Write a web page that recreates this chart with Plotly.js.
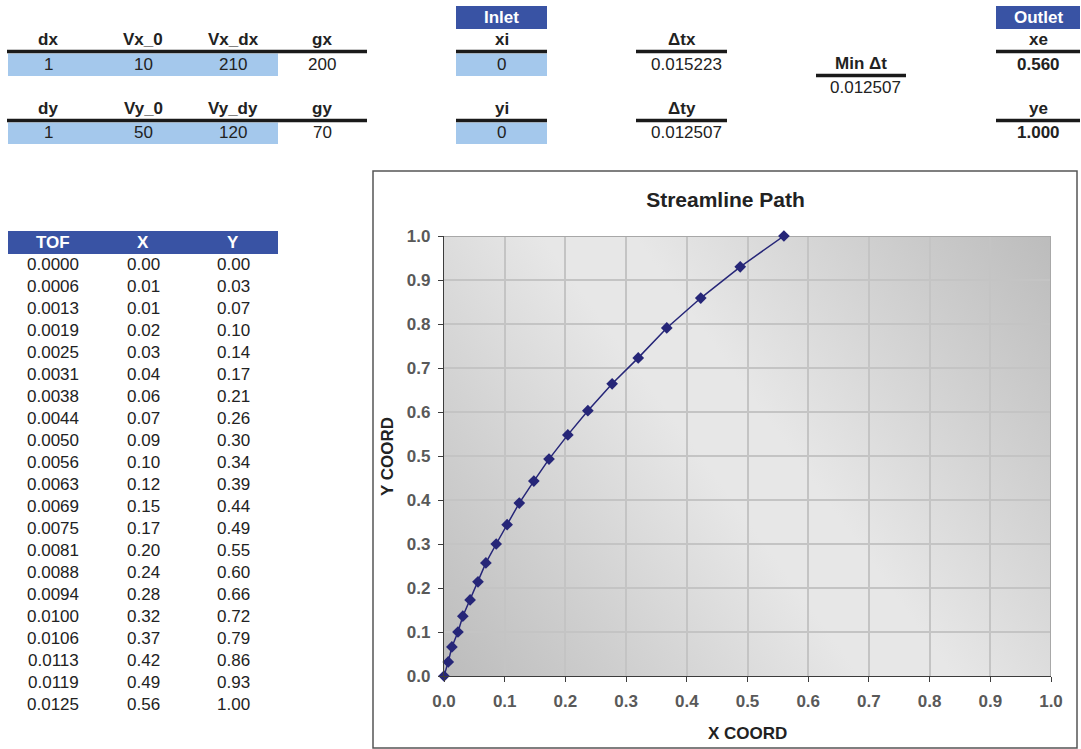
<!DOCTYPE html>
<html>
<head>
<meta charset="utf-8">
<script src="https://cdn.plot.ly/plotly-3.0.1.min.js"></script>
<style>
  html, body { margin: 0; padding: 0; background: #ffffff; }
  #chart { width: 1081px; height: 749px; }
</style>
</head>
<body>
<div id="chart"></div>
<script>
// ---------------- DATA ----------------
const gridHeadersX = ['dx', 'Vx_0', 'Vx_dx', 'gx'];
const gridValuesX  = [1, 10, 210, 200];
const gridHeadersY = ['dy', 'Vy_0', 'Vy_dy', 'gy'];
const gridValuesY  = [1, 50, 120, 70];

const inletLabels  = ['xi', 'yi'];
const inletValues  = [0, 0];
const dtLabels     = ['Δtx', 'Δty'];
const dtValues     = [0.015223, 0.012507];
const minDtLabel   = 'Min Δt';
const minDtValue   = 0.012507;
const outletLabels = ['xe', 'ye'];
const outletValues = [0.560, 1.000];

const tableHeaders = ['TOF', 'X', 'Y'];
const tof   = [0.0000, 0.0006, 0.0013, 0.0019, 0.0025, 0.0031, 0.0038, 0.0044, 0.0050, 0.0056,
               0.0063, 0.0069, 0.0075, 0.0081, 0.0088, 0.0094, 0.0100, 0.0106, 0.0113, 0.0119, 0.0125];
const xPath = [0.000, 0.007, 0.013, 0.023, 0.031, 0.043, 0.056, 0.069, 0.086, 0.104,
               0.124, 0.148, 0.173, 0.204, 0.237, 0.277, 0.320, 0.367, 0.423, 0.488, 0.560];
const yPath = [0.000, 0.032, 0.066, 0.100, 0.136, 0.173, 0.214, 0.257, 0.300, 0.344,
               0.393, 0.443, 0.493, 0.548, 0.603, 0.664, 0.723, 0.791, 0.859, 0.930, 1.000];

const chartTitle = 'Streamline Path';
const xTitle = 'X COORD';
const yTitle = 'Y COORD';

// ---------------- LAYOUT HELPERS ----------------
const W = 1081, H = 749;
const px = x => x / W;
const py = y => 1 - y / H;
const FONT = 'Liberation Sans, Arial, Helvetica, sans-serif';
const DARKBLUE = '#3953a4';
const LIGHTBLUE = '#a4c8ec';
const INK = '#222222';

const shapes = [];
const annotations = [];

function rect(x0, x1, y0, y1, color) {
  shapes.push({type: 'rect', xref: 'paper', yref: 'paper', x0: px(x0), x1: px(x1), y0: py(y1), y1: py(y0),
               fillcolor: color, line: {width: 0}, layer: 'below'});
}
function hline(x0, x1, y, w) {
  shapes.push({type: 'line', xref: 'paper', yref: 'paper', x0: px(x0), x1: px(x1), y0: py(y), y1: py(y),
               line: {color: '#1a1a1a', width: w || 3.5}});
}
function text(t, x, y, opts) {
  opts = opts || {};
  annotations.push({text: String(t), xref: 'paper', yref: 'paper', x: px(x), y: py(y),
    xanchor: opts.xanchor || 'center', yanchor: 'middle', showarrow: false,
    textangle: opts.angle || 0,
    font: {family: FONT, size: opts.size || 17, color: opts.color || INK, weight: opts.bold ? 'bold' : 'normal'}});
}

// --- top-left grid block ---
const colCenters = [48, 143, 233, 322];
rect(8, 278, 53.5, 76, LIGHTBLUE);
rect(8, 278, 122.5, 144, LIGHTBLUE);
hline(7, 367, 51.5);
hline(7, 367, 120.5);
gridHeadersX.forEach((h, i) => text(h, colCenters[i], 40, {bold: true}));
gridValuesX.forEach((v, i) => text(v, colCenters[i], 64));
gridHeadersY.forEach((h, i) => text(h, colCenters[i], 109, {bold: true}));
gridValuesY.forEach((v, i) => text(v, colCenters[i], 132));

// --- inlet ---
rect(456, 547, 6, 29, DARKBLUE);
text('Inlet', 501.5, 18, {bold: true, color: '#ffffff'});
rect(456, 547, 53.5, 76, LIGHTBLUE);
rect(456, 547, 122.5, 144, LIGHTBLUE);
hline(456, 547, 51.5);
hline(456, 547, 120.5);
text(inletLabels[0], 501.5, 40, {bold: true});
text(inletValues[0], 501.5, 64);
text(inletLabels[1], 501.5, 109, {bold: true});
text(inletValues[1], 501.5, 132);

// --- delta t ---
hline(636, 727, 51.5);
hline(636, 727, 120.5);
text(dtLabels[0], 681.5, 40, {bold: true});
text(dtValues[0].toFixed(6), 686, 64);
text(dtLabels[1], 681.5, 109, {bold: true});
text(dtValues[1].toFixed(6), 686, 132);

// --- min delta t ---
hline(816, 906, 75.5);
text(minDtLabel, 861, 63, {bold: true});
text(minDtValue.toFixed(6), 865, 87);

// --- outlet ---
rect(996, 1080, 6, 29, DARKBLUE);
text('Outlet', 1038, 18, {bold: true, color: '#ffffff'});
hline(996, 1080, 51.5);
hline(996, 1080, 120.5);
text(outletLabels[0], 1038, 40, {bold: true});
text(outletValues[0].toFixed(3), 1038, 64, {bold: true});
text(outletLabels[1], 1038, 109, {bold: true});
text(outletValues[1].toFixed(3), 1038, 132, {bold: true});

// --- TOF table ---
const tCols = [53, 143, 233];
rect(8, 278, 231, 254, DARKBLUE);
tableHeaders.forEach((h, i) => text(h, tCols[i], 242.5, {bold: true, color: '#ffffff'}));
tof.forEach((t, r) => {
  const y = 264.5 + 22 * r;
  text(t.toFixed(4), tCols[0], y);
  text(xPath[r].toFixed(2), tCols[1], y);
  text(yPath[r].toFixed(2), tCols[2], y);
});

// --- chart frame ---
shapes.push({type: 'rect', xref: 'paper', yref: 'paper', x0: px(373), x1: px(1077), y0: py(748), y1: py(171),
             line: {color: '#555555', width: 1.5}, fillcolor: 'rgba(0,0,0,0)', layer: 'below'});
// darker top/right plot edges
shapes.push({type: 'line', xref: 'x', yref: 'y', x0: 0, x1: 1, y0: 1, y1: 1, line: {color: '#a8a8a8', width: 2}, layer: 'between'});
shapes.push({type: 'line', xref: 'x', yref: 'y', x0: 1, x1: 1, y0: 0, y1: 1, line: {color: '#a8a8a8', width: 2}, layer: 'between'});

// axis titles
text(xTitle, 747, 733, {bold: true, size: 17});
text(yTitle, 387, 457, {bold: true, size: 17, angle: -90});

// gradient plot background
function gradientImage() {
  const c = document.createElement('canvas');
  c.width = 607; c.height = 440;
  const g = c.getContext('2d');
  const grad = g.createLinearGradient(0, 440, 607, 0);
  grad.addColorStop(0, '#bcbcbc');
  grad.addColorStop(0.45, '#e7e7e7');
  grad.addColorStop(0.55, '#e7e7e7');
  grad.addColorStop(1, '#bcbcbc');
  g.fillStyle = grad;
  g.fillRect(0, 0, 607, 440);
  return c.toDataURL('image/png');
}

const tickFont = {family: FONT, size: 17, color: '#595959', weight: 'bold'};
const axisCommon = {
  range: [0, 1], tick0: 0, dtick: 0.1, tickformat: '.1f',
  showgrid: true, gridcolor: '#c4c4c4', gridwidth: 2,
  showline: true, linecolor: '#3c3c3c', linewidth: 1.2,
  ticks: 'outside', ticklen: 5, tickcolor: '#3c3c3c', tickwidth: 1,
  tickfont: tickFont, zeroline: false, fixedrange: true, automargin: false
};

const trace = {
  type: 'scatter', mode: 'lines+markers', x: xPath, y: yPath,
  line: {color: '#262678', width: 1.5},
  marker: {symbol: 'diamond', size: 9, color: '#262678'},
  cliponaxis: false, hoverinfo: 'x+y', showlegend: false
};

const layout = {
  width: W, height: H,
  margin: {l: 0, r: 0, t: 0, b: 0, pad: 0},
  paper_bgcolor: '#ffffff', plot_bgcolor: 'rgba(0,0,0,0)',
  font: {family: FONT, color: INK},
  title: {text: chartTitle, x: px(725.5), xanchor: 'center', xref: 'paper', y: py(200), yanchor: 'middle', yref: 'paper',
          font: {family: FONT, size: 21, color: INK, weight: 'bold'}},
  xaxis: Object.assign({}, axisCommon, {domain: [px(444), px(1051)], ticklabelstandoff: 4}),
  yaxis: Object.assign({}, axisCommon, {domain: [py(676), py(236)], ticklabelstandoff: 4}),
  images: [{source: gradientImage(), xref: 'x', yref: 'y', x: 0, y: 1, sizex: 1, sizey: 1,
            xanchor: 'left', yanchor: 'top', sizing: 'stretch', layer: 'below'}],
  shapes: shapes,
  annotations: annotations,
  showlegend: false
};

Plotly.newPlot('chart', [trace], layout, {displayModeBar: false, staticPlot: false});
</script>
</body>
</html>
